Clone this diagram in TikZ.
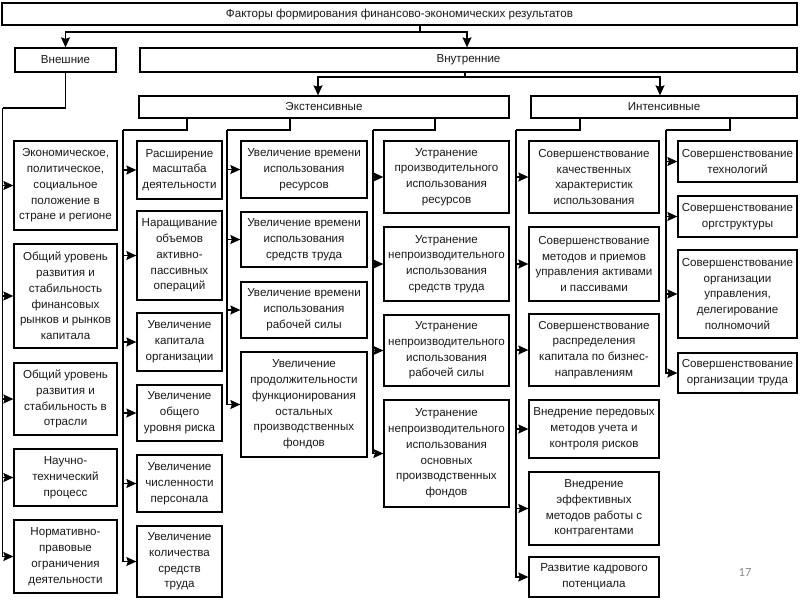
\documentclass[tikz,border=0pt]{standalone}
\usepackage{fontspec}
\setmainfont{Liberation Sans}
\newfontfamily\numfont{Carlito}
\usetikzlibrary{arrows.meta}
\definecolor{txt}{rgb}{0.1,0.1,0.1}
\definecolor{pgnum}{rgb}{0.55,0.55,0.55}
\newcommand\bxfont{\fontsize{11.6}{15.8}\selectfont}
\tikzset{
  bx/.style={draw, line width=1.3pt, align=center, inner sep=1pt, font=\bxfont, text=txt},
  arr/.style={-{Stealth[length=10pt,width=9pt,inset=1.5pt]}, line width=1.2pt},
  ln/.style={line width=1.2pt}
}
\begin{document}
\begin{tikzpicture}[x=1pt,y=-1pt]
\useasboundingbox (0,0) rectangle (800,600);
% top level
\node[bx, minimum width=795pt, minimum height=22pt] (T) at (399.5,14) {Факторы формирования финансово-экономических результатов};
\node[bx, minimum width=101pt, minimum height=24pt] (Vn) at (65.5,60) {Внешние};
\node[bx, minimum width=657pt, minimum height=24pt] (Vt) at (468.5,60) {Внутренние};
\node[bx, minimum width=370pt, minimum height=22pt] (Ek) at (324,107) {Экстенсивные};
\node[bx, minimum width=266pt, minimum height=22pt] (In) at (664,107) {Интенсивные};
% left column
\node[bx, minimum width=103pt, minimum height=89pt] (L1) at (65.5,185.5) {Экономическое,\\политическое,\\социальное\\положение в\\стране и регионе};
\node[bx, minimum width=103pt, minimum height=104pt] (L2) at (65.5,296) {Общий уровень\\развития и\\стабильность\\финансовых\\рынков и рынков\\капитала};
\node[bx, minimum width=103pt, minimum height=72pt] (L3) at (65.5,399) {Общий уровень\\развития и\\стабильность в\\отрасли};
\node[bx, minimum width=103pt, minimum height=57pt] (L4) at (65.5,477.5) {Научно-\\технический\\процесс};
\node[bx, minimum width=103pt, minimum height=73pt] (L5) at (65.5,556.5) {Нормативно-\\правовые\\ограничения\\деятельности};
% column 2
\node[bx, minimum width=85pt, minimum height=58pt] (A1) at (179.5,170) {Расширение\\масштаба\\деятельности};
\node[bx, minimum width=85pt, minimum height=89pt] (A2) at (179.5,255.5) {Наращивание\\объемов\\активно-\\пассивных\\операций};
\node[bx, minimum width=85pt, minimum height=58pt] (A3) at (179.5,342) {Увеличение\\капитала\\организации};
\node[bx, minimum width=85pt, minimum height=56pt] (A4) at (179.5,413) {Увеличение\\общего\\уровня риска};
\node[bx, minimum width=85pt, minimum height=57pt] (A5) at (179.5,483.5) {Увеличение\\численности\\персонала};
\node[bx, minimum width=85pt, minimum height=71pt] (A6) at (179.5,561.5) {Увеличение\\количества\\средств\\труда};
% column 3
\node[bx, minimum width=126pt, minimum height=57pt] (B1) at (304,169.5) {Увеличение времени\\использования\\ресурсов};
\node[bx, minimum width=126pt, minimum height=55pt] (B2) at (304,239.5) {Увеличение времени\\использования\\средств труда};
\node[bx, minimum width=126pt, minimum height=56pt] (B3) at (304,310) {Увеличение времени\\использования\\рабочей силы};
\node[bx, minimum width=126pt, minimum height=105pt] (B4) at (304,404.5) {Увеличение\\продолжительности\\функционирования\\остальных\\производственных\\фондов};
% column 4
\node[bx, minimum width=125pt, minimum height=72pt] (C1) at (446.5,177) {Устранение\\производительного\\использования\\ресурсов};
\node[bx, minimum width=125pt, minimum height=74pt] (C2) at (446.5,264) {Устранение\\непроизводительного\\использования\\средств труда};
\node[bx, minimum width=125pt, minimum height=71pt] (C3) at (446.5,350.5) {Устранение\\непроизводительного\\использования\\рабочей силы};
\node[bx, minimum width=125pt, minimum height=107pt] (C4) at (446.5,453.5) {Устранение\\непроизводительного\\использования\\основных\\производственных\\фондов};
% column 5
\node[bx, minimum width=130pt, minimum height=72pt] (D1) at (594,177) {Совершенствование\\качественных\\характеристик\\использования};
\node[bx, minimum width=130pt, minimum height=74pt] (D2) at (594,264) {Совершенствование\\методов и приемов\\управления активами\\и пассивами};
\node[bx, minimum width=130pt, minimum height=72pt] (D3) at (594,350) {Совершенствование\\распределения\\капитала по бизнес-\\направлениям};
\node[bx, minimum width=130pt, minimum height=58pt] (D4) at (594,429) {Внедрение передовых\\методов учета и\\контроля рисков};
\node[bx, minimum width=130pt, minimum height=73pt] (D5) at (594,508.5) {Внедрение\\эффективных\\методов работы с\\контрагентами};
\node[bx, minimum width=130pt, minimum height=40pt] (D6) at (594,577) {Развитие кадрового\\потенциала};
% column 6
\node[bx, minimum width=119pt, minimum height=41pt] (E1) at (737.5,161.5) {Совершенствование\\технологий};
\node[bx, minimum width=119pt, minimum height=41pt] (E2) at (737.5,216.5) {Совершенствование\\оргструктуры};
\node[bx, minimum width=119pt, minimum height=88pt] (E3) at (737.5,294) {Совершенствование\\организации\\управления,\\делегирование\\полномочий};
\node[bx, minimum width=119pt, minimum height=40pt] (E4) at (737.5,373) {Совершенствование\\организации труда};
% page number
\node[font=\numfont\fontsize{12.5}{14}\selectfont, text=pgnum] (pg) at (745,572) {17};
% bus coordinates
\coordinate (t1) at (420,32);
\coordinate (v1) at (465,77);
\coordinate (lb) at (2.5,108);
\coordinate (c2) at (123,130);
\coordinate (c3) at (227,130);
\coordinate (c4) at (373,130);
\coordinate (c5) at (516,130);
\coordinate (c6) at (666,130);
% top connectors
\draw[ln] (T.south -| t1) -- (t1);
\draw[arr] (t1) -| (Vn.north);
\draw[arr] (t1) -| (Vt.north -| 467,0);
\draw[ln] (Vt.south -| v1) -- (v1);
\draw[arr] (v1) -| (Ek.north -| 318,0);
\draw[arr] (v1) -| (In.north -| 660,0);
% left bus
\draw[ln] (Vn.south) |- (lb);
\foreach \n in {L1,L2,L3,L4,L5} \draw[arr] (lb) |- (\n.west);
% extensive buses
\draw[ln] (Ek.south -| 187,0) |- (c2);
\foreach \n in {A1,A2,A3,A4,A5,A6} \draw[arr] (c2) |- (\n.west);
\draw[ln] (Ek.south -| 290,0) |- (c3);
\foreach \n in {B1,B2,B3,B4} \draw[arr] (c3) |- (\n.west);
\draw[ln] (Ek.south -| 435,0) |- (c4);
\foreach \n in {C1,C2,C3,C4} \draw[arr] (c4) |- (\n.west);
% intensive buses
\draw[ln] (In.south -| 580,0) |- (c5);
\foreach \n in {D1,D2,D3,D4,D5,D6} \draw[arr] (c5) |- (\n.west);
\draw[ln] (In.south -| 730,0) |- (c6);
\foreach \n in {E1,E2,E3,E4} \draw[arr] (c6) |- (\n.west);
\end{tikzpicture}
\end{document}
